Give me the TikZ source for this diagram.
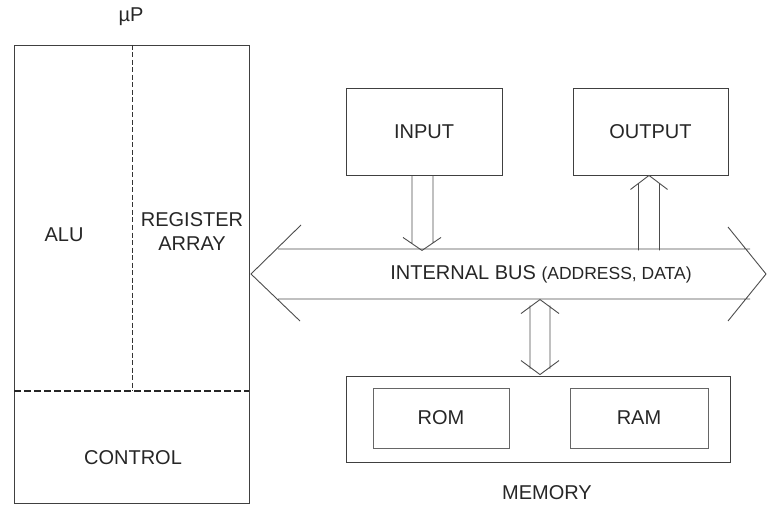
\documentclass[tikz,border=0pt]{standalone}
\usepackage{fontspec}
\setmainfont{Liberation Sans}
\usepackage{tikz}
\usetikzlibrary{calc}

\tikzset{
    box/.style={draw=black!75, line width=0.9pt, inner sep=0pt},
    innerbox/.style={draw=black!60, line width=0.7pt, inner sep=0pt},
    busline/.style={draw=black!70, line width=0.9pt},
    label/.style={text=black!85, font=\fontsize{20}{24}\selectfont, inner sep=0pt}
}

\begin{document}
\begin{tikzpicture}[x=1pt, y=-1pt]
        \useasboundingbox (0,0) rectangle (768,505);

        % Microprocessor block.
        \node[box, minimum width=235, minimum height=458] (up) at (131.5,274) {};
        \node[label] (uplabel) at (131,17) {µP};
        \draw[black!80, line width=0.8pt, dash pattern=on 5pt off 2.5pt]
            (132,45) -- (132,391);
        \draw[black!85, line width=1.6pt, dash pattern=on 7pt off 3pt]
            (14,391) -- (249,391);
        \draw (64,235) node[label] (alu) {ALU}
            (192,232) node[label, align=center] (reg) {REGISTER\\ARRAY}
            (133,458) node[label] (control) {CONTROL};

        % Input, output and memory.
        \node[box, minimum width=156, minimum height=87] (input) at (424,131.5) {};
        \node[label] (inlabel) at (input.center) {INPUT};
        \node[box, minimum width=155, minimum height=87] (output) at (650.5,131.5) {};
        \node[label] (outlabel) at (output.center) {OUTPUT};
        \node[box, minimum width=384, minimum height=86] (memory) at (538,419) {};
        \node[innerbox, minimum width=136, minimum height=60, label] (rom) at (441,418) {ROM};
        \node[innerbox, minimum width=138, minimum height=60, label] (ram) at (639,418) {RAM};
        \node[label] (memlabel) at (547,493) {MEMORY};

        % Internal bus.
        \coordinate (busl) at (251,274);
        \coordinate (busr) at (766,274);
        \draw[busline] (278,249) -- (750,249)
            (278,299) -- (750,299)
            ($(busl)+(50,-49)$) -- (busl) -- ($(busl)+(49,47)$)
            ($(busr)+(-38,-47)$) -- (busr) -- ($(busr)+(-38,47)$);
        \node[label] (buslabel) at (541,274)
            {INTERNAL BUS {\fontsize{17.5}{20}\selectfont (ADDRESS, DATA)}};

        % Input to bus.
        \draw[busline] ($(input.south)+(-12,0)$) -- ++(0,68)
            ($(input.south)+(9,0)$) -- ++(0,68)
            ($(input.south)+(-21,62)$) -- ($(input.south)+(-2,75)$) -- ($(input.south)+(17,62)$);

        % Bus to output.
        \draw[busline] ($(output.south)+(-12,75)$) -- ++(0,-67)
            ($(output.south)+(9,75)$) -- ++(0,-67)
            ($(output.south)+(-20,14)$) -- ($(output.south)+(-1.5,0)$) -- ($(output.south)+(17,14)$);

        % Bus to and from memory.
        \draw[busline] ($(memory.north)+(-8,-70)$) -- ++(0,63)
            ($(memory.north)+(12,-70)$) -- ++(0,63)
            ($(memory.north)+(-17,-62)$) -- ($(memory.north)+(2,-76)$) -- ($(memory.north)+(21,-62)$)
            ($(memory.north)+(-17,-15)$) -- ($(memory.north)+(2,-1)$) -- ($(memory.north)+(21,-15)$);
\end{tikzpicture}
\end{document}
